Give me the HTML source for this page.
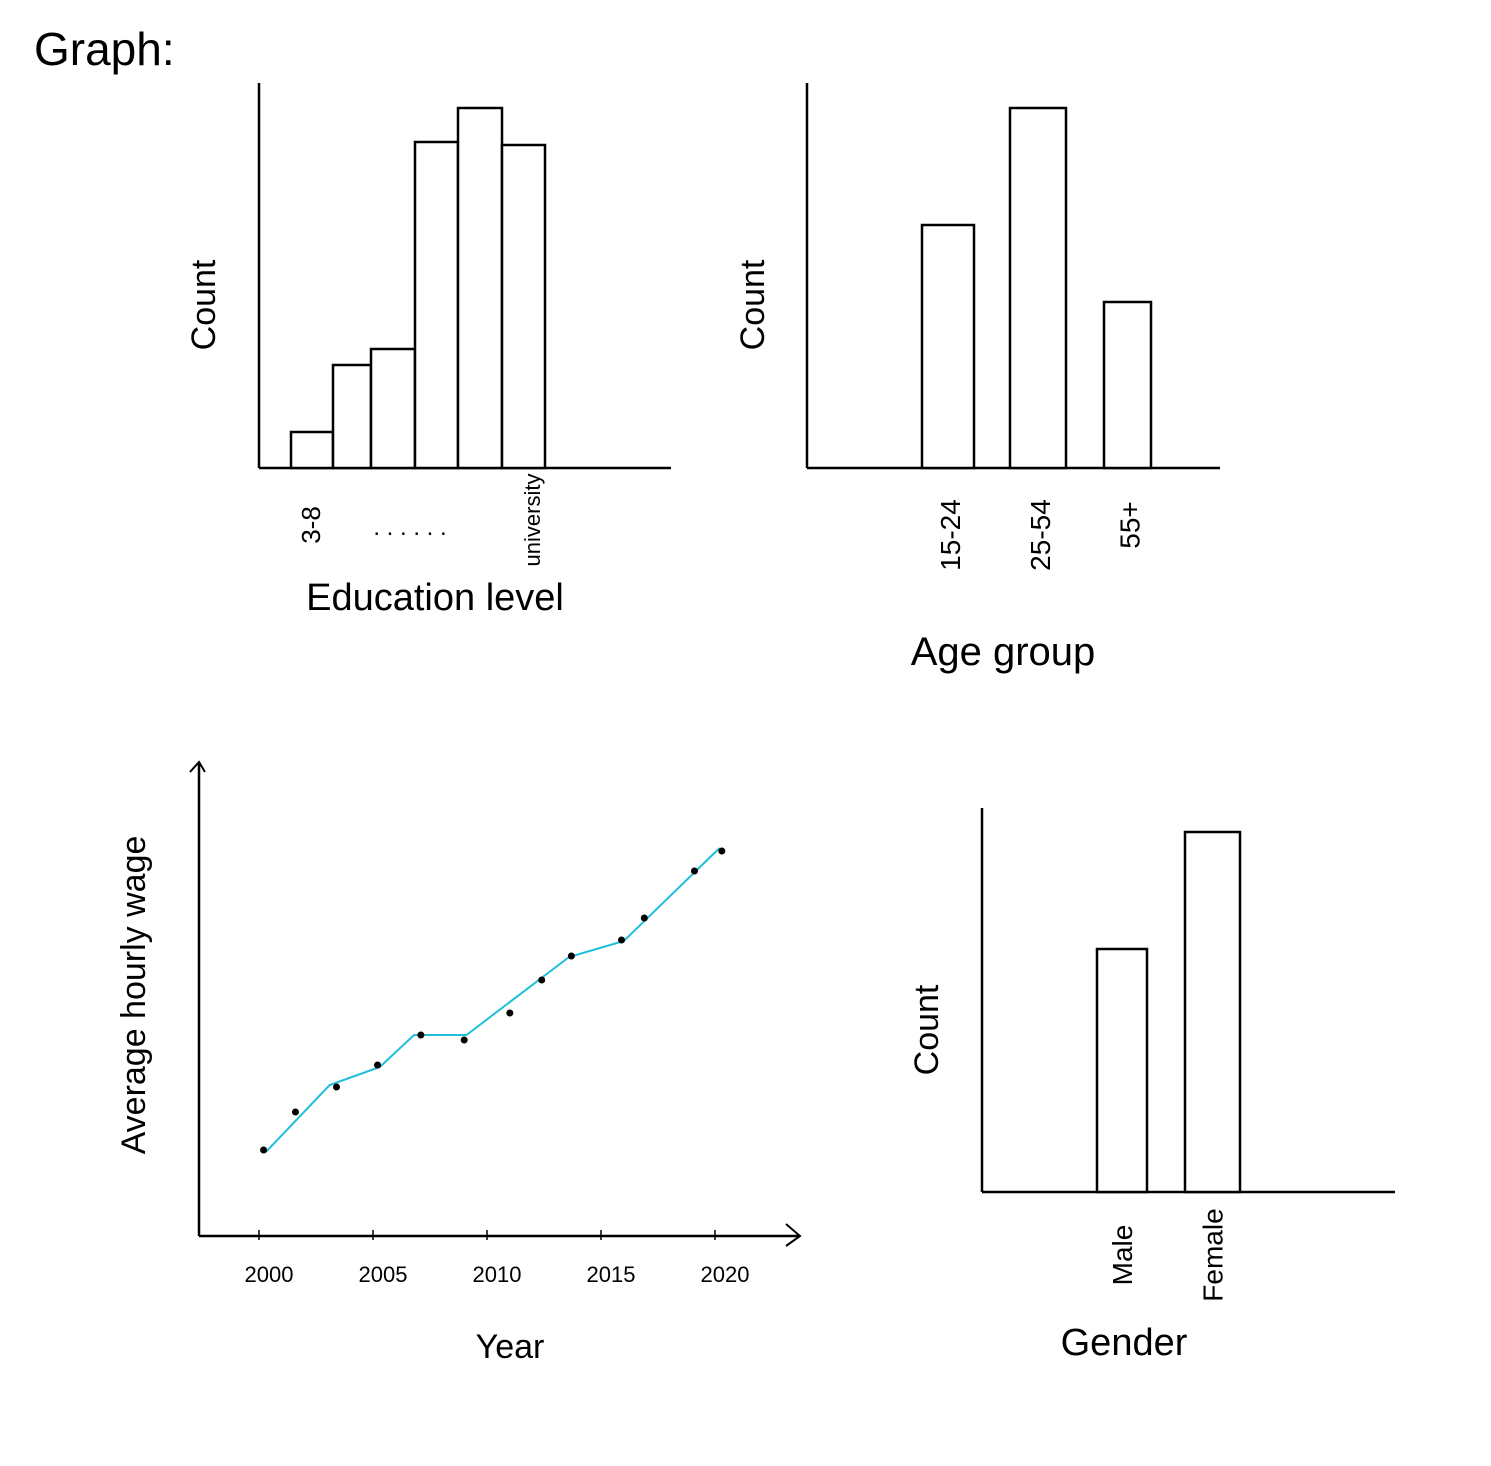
<!DOCTYPE html>
<html><head><meta charset="utf-8"><style>
html,body{margin:0;padding:0;background:#fff;}
svg{display:block;font-family:"Liberation Sans",sans-serif;}
text{fill:#000;}
</style></head><body>
<svg id="s" width="1491" height="1466" viewBox="0 0 1491 1466">
<text x="34" y="65" font-size="46">Graph:</text>
<g id="c1"></g>
<g id="c2"></g>
<g id="c3"></g>
<g id="c4"></g>
</svg>
<script>
var NS="http://www.w3.org/2000/svg";
function mk(p,tag,at){var e=document.createElementNS(NS,tag);for(var k in at)e.setAttribute(k,at[k]);p.appendChild(e);return e;}

// Education data
var eduCounts=[36,103,119,326,360,323];
// Age data
var ageCats=["15-24","25-54","55+"];
var ageCounts=[243,360,166];
// Gender data
var genderCats=["Male","Female"];
var genderCounts=[243,360];
// Wage data
var wageYears=[2000.2,2001.6,2003.4,2005.2,2007.1,2009.0,2011.0,2012.4,2013.7,2015.9,2016.9,2019.1,2020.3];
var wageValues=[8.6,12.4,14.9,17.1,20.1,19.6,22.3,25.6,28.0,29.6,31.8,36.5,38.5];
var fitYears=[2000.3,2003.1,2005.3,2006.8,2009.1,2013.6,2016.0,2020.2];
var fitValues=[8.4,15.1,16.9,20.1,20.1,27.9,29.5,38.8];
var yearTicks=[2000,2005,2010,2015,2020];

function axes(g,x0,yTop,y0,xEnd){
  var y=mk(g,"line",{x1:x0,y1:yTop,x2:x0,y2:y0,stroke:"#000","stroke-width":2.5});
  
  
  var x=mk(g,"line",{x1:x0,y1:y0,x2:xEnd,y2:y0,stroke:"#000","stroke-width":2.5});
  
  
}
function rtext(g,x,y,str,size,name){
  var t=mk(g,"text",{transform:"translate("+x+","+y+") rotate(-90)","font-size":size,"text-anchor":"middle"});
  t.textContent=str;
  
  
  return t;
}
function htext(g,x,y,str,size,name){
  var t=mk(g,"text",{x:x,y:y,"font-size":size,"text-anchor":"middle"});
  t.textContent=str;
  
  
  return t;
}
function bars(g,counts,lefts,widths,y0,scale,prefix){
  for(var i=0;i<counts.length;i++){
    var h=counts[i]*scale;
    var r=mk(g,"rect",{x:lefts[i],y:y0-h,width:widths[i],height:h,fill:"#fff",stroke:"#000","stroke-width":2.5});
    
    
  }
}

// Chart 1
var g1=document.getElementById("c1");
axes(g1,259,83,468,671);
bars(g1,eduCounts,[291,333,371,415,458,502],[42,38,44,43,44,43],468,1.0,'edu-bar');
rtext(g1,320,525,"3-8",26,'x-label-first');
htext(g1,410,535,". . . . . .",24,'x-label-ellipsis');
rtext(g1,540,520,"university",22,'x-label-last');
htext(g1,435,610,"Education level",38,'x-axis-title');
rtext(g1,215,305,"Count",34,'y-axis-title');

// Chart 2
var g2=document.getElementById("c2");
axes(g2,807,83,468,1220);
var ageL=[922,1010,1104],ageW=[52,56,47];
bars(g2,ageCounts,ageL,ageW,468,1.0,'age-bar');
for(var i=0;i<ageCats.length;i++){rtext(g2,ageL[i]+ageW[i]/2+12,ageCats[i]=="55+"?525:535,ageCats[i],28,'age-label');}
htext(g2,1003,665,"Age group",40,'x-axis-title');
rtext(g2,764,305,"Count",34,'y-axis-title');

// Chart 4
var g4=document.getElementById("c4");
axes(g4,982,808,1192,1395);
var gL=[1097,1185],gW=[50,55];
bars(g4,genderCounts,gL,gW,1192,1.0,'gender-bar');
for(var i=0;i<genderCats.length;i++){rtext(g4,gL[i]+gW[i]/2+10,1255,genderCats[i],28,'gender-label');}
htext(g4,1124,1355,"Gender",38,'x-axis-title');
rtext(g4,938,1030,"Count",34,'y-axis-title');

// Chart 3
var g3=document.getElementById("c3");
function xs(yr){return 259+(yr-2000)*22.8;}
function ys(v){return 1236-v*10;}
axes(g3,199,762,1236,800);
var a1=mk(g3,"path",{d:"M190 772 L199 762 L205 772",fill:"none",stroke:"#000","stroke-width":2});


var a2=mk(g3,"path",{d:"M786 1224 L800 1236 L786 1246",fill:"none",stroke:"#000","stroke-width":2});


for(var i=0;i<yearTicks.length;i++){
  var tx=xs(yearTicks[i]);
  var tk=mk(g3,"line",{x1:tx,y1:1230,x2:tx,y2:1240,stroke:"#000","stroke-width":1.5});
  
  
  htext(g3,tx+10,1282,String(yearTicks[i]),22,'x-tick-label');
}
var d="";
for(var i=0;i<fitYears.length;i++){d+=(i?"L":"M")+xs(fitYears[i])+" "+ys(fitValues[i])+" ";}
var ln=mk(g3,"path",{d:d,fill:"none",stroke:"#1fbfdc","stroke-width":2});


for(var i=0;i<wageYears.length;i++){
  var c=mk(g3,"circle",{cx:xs(wageYears[i]),cy:ys(wageValues[i]),r:3.5,fill:"#000"});
  
  
}
htext(g3,510,1358,"Year",34,'x-axis-title');
rtext(g3,145,995,"Average hourly wage",34,'y-axis-title');
</script>
</body></html>
